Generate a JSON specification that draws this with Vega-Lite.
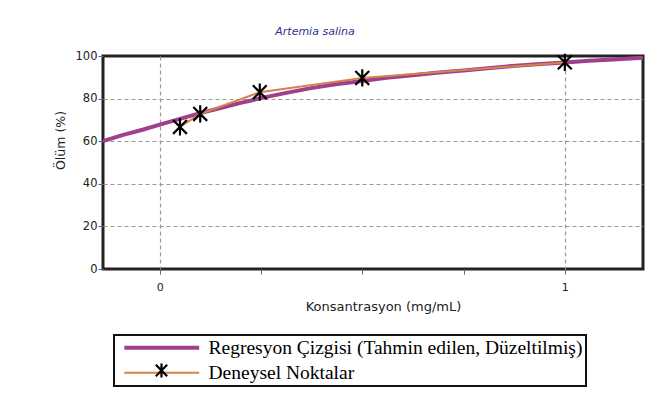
{
  "$schema": "https://vega.github.io/schema/vega-lite/v6.json",
  "width": 540,
  "height": 213,
  "autosize": "none",
  "padding": {"left": 103, "top": 56, "right": 8, "bottom": 146},
  "background": "white",
  "config": {"view": {"stroke": "#222", "strokeWidth": 3}, "font": "DejaVu Sans"},
  "title": {"text": "Artemia salina", "font": "DejaVu Sans", "fontSize": 11, "fontStyle": "italic", "fontWeight": "normal", "color": "#2E3192", "anchor": "middle", "dx": -58, "offset": 12, "frame": "group"},
  "datasets": {
    "reg": [
      {"x": -0.14, "y": 60}, {"x": -0.09, "y": 63}, {"x": -0.04, "y": 65.5}, {"x": 0, "y": 67.8},
      {"x": 0.05, "y": 70.5}, {"x": 0.1, "y": 73.2}, {"x": 0.15, "y": 75.6}, {"x": 0.2, "y": 78},
      {"x": 0.25, "y": 80.2}, {"x": 0.3, "y": 82.2}, {"x": 0.37, "y": 84.8}, {"x": 0.43, "y": 86.6},
      {"x": 0.5, "y": 88.3}, {"x": 0.56, "y": 89.8}, {"x": 0.63, "y": 91.1}, {"x": 0.69, "y": 92.2},
      {"x": 0.75, "y": 93.2}, {"x": 0.81, "y": 94.3}, {"x": 0.87, "y": 95.3}, {"x": 0.94, "y": 96.2},
      {"x": 1.0, "y": 97.0}, {"x": 1.06, "y": 97.8}, {"x": 1.12, "y": 98.4}, {"x": 1.193, "y": 99.2}
    ],
    "exp": [
      {"x": 0.05, "y": 66.7}, {"x": 0.1, "y": 72.8}, {"x": 0.247, "y": 83}, {"x": 0.5, "y": 89.7}, {"x": 1.0, "y": 97}
    ]
  },
  "layer": [
    {
      "data": {"name": "reg"},
      "mark": {"type": "line", "strokeWidth": 4, "clip": true},
      "encoding": {
        "x": {"field": "x", "type": "quantitative",
          "scale": {"domain": [-0.14, 1.193], "nice": false, "zero": false},
          "axis": {
            "title": "Konsantrasyon (mg/mL)",
            "values": [0, 0.25, 0.5, 0.75, 1],
            "labelExpr": "datum.value === 0 ? '0' : (datum.value === 1 ? '1' : '')",
            "grid": true, "gridDash": [4, 3], "gridColor": "#999", "gridWidth": 1.2,
            "gridOpacity": {"condition": {"test": "datum.value === 0 || datum.value === 1", "value": 1}, "value": 0},
            "tickSize": 5, "tickColor": "#666",
            "domain": false,
            "labelFont": "DejaVu Sans", "labelFontSize": 11, "labelColor": "#222", "labelPadding": 7,
            "titleFont": "DejaVu Sans", "titleFontSize": 13, "titleFontWeight": "normal", "titleColor": "#222",
            "titleX": 280, "titleY": 37, "titleBaseline": "middle", "titleAlign": "center"
          }
        },
        "y": {"field": "y", "type": "quantitative",
          "scale": {"domain": [0, 100], "nice": false},
          "axis": {
            "title": "Ölüm (%)",
            "values": [0, 5, 10, 15, 20, 25, 30, 35, 40, 45, 50, 55, 60, 65, 70, 75, 80, 85, 90, 95, 100],
            "labelExpr": "datum.value % 20 === 0 ? datum.label : ''",
            "grid": true, "gridDash": [4, 3], "gridColor": "#999", "gridWidth": 1.2,
            "gridOpacity": {"condition": {"test": "datum.value % 20 === 0 && datum.value > 0 && datum.value < 100", "value": 1}, "value": 0},
            "tickSize": 5, "tickColor": "#666",
            "domain": false,
            "labelFont": "DejaVu Sans", "labelFontSize": 11.5, "labelColor": "#222", "labelPadding": 1,
            "titleFont": "DejaVu Sans", "titleFontSize": 12.5, "titleFontWeight": "normal", "titleColor": "#222",
            "titleX": -43, "titleY": 84, "titleBaseline": "middle", "titleAlign": "center", "titleAngle": -90
          }
        },
        "color": {
          "datum": "Regresyon Çizgisi (Tahmin edilen, Düzeltilmiş)",
          "scale": {"domain": ["Regresyon Çizgisi (Tahmin edilen, Düzeltilmiş)", "Deneysel Noktalar"], "range": ["#A0408C", "#D4834A"]},
          "legend": {
            "orient": "none", "legendX": 11, "legendY": 279, "title": null,
            "padding": 3, "titlePadding": 0,
            "symbolType": "M-10.7,0L10.7,0", "symbolSize": 49, "symbolOffset": 35,
            "labelOffset": 37, "labelFont": "Liberation Serif", "labelFontSize": 19.5, "labelColor": "#000", "labelLimit": 600,
            "rowPadding": 4,
            "encode": {
              "legend": {"update": {"stroke": {"value": "#111"}, "strokeWidth": {"value": 2}, "fill": {"value": "white"}}},
              "symbols": {"update": {"strokeWidth": {"signal": "datum.value === 'Deneysel Noktalar' ? 2 : 4"}, "fill": {"value": "transparent"}}}
            }
          }
        }
      }
    },
    {
      "data": {"name": "exp"},
      "mark": {"type": "line", "strokeWidth": 2},
      "encoding": {
        "x": {"field": "x", "type": "quantitative"},
        "y": {"field": "y", "type": "quantitative"},
        "color": {"datum": "Deneysel Noktalar"}
      }
    },
    {
      "data": {"name": "exp"},
      "mark": {"type": "point", "filled": false, "stroke": "black", "strokeWidth": 2.2, "size": 300, "opacity": 1},
      "encoding": {
        "x": {"field": "x", "type": "quantitative"},
        "y": {"field": "y", "type": "quantitative"},
        "shape": {
          "datum": "star",
          "scale": {"domain": ["star"], "range": ["M0,-1L0,1M-0.8,-0.8L0.8,0.8M-0.8,0.8L0.8,-0.8"]},
          "legend": {
            "orient": "none", "legendX": 50, "legendY": 306, "title": null, "padding": 0,
            "symbolSize": 200, "symbolStrokeColor": "black", "symbolStrokeWidth": 2.2, "symbolFillColor": "transparent",
            "labelExpr": "''"
          }
        }
      }
    }
  ]
}
